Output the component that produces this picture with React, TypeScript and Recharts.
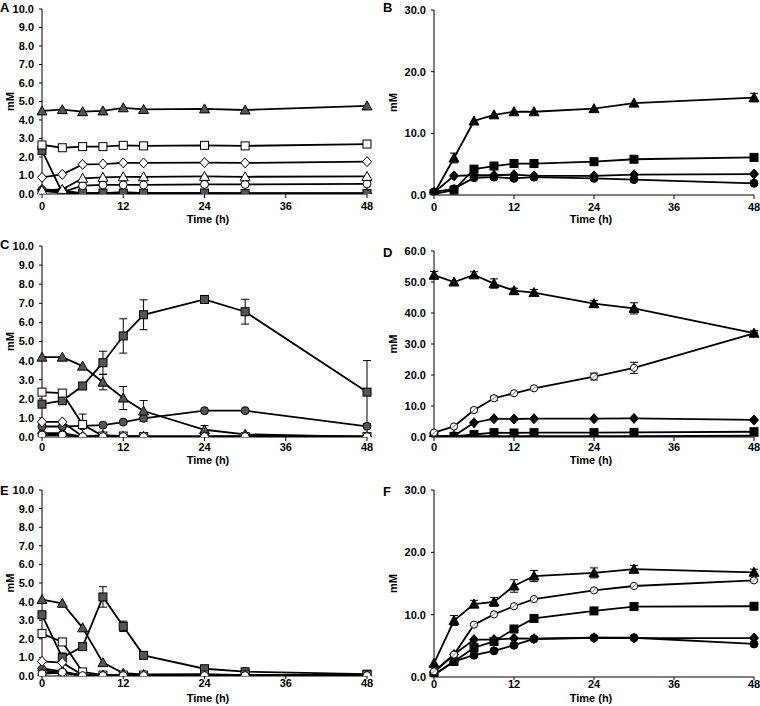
import React from 'react';
import { LineChart, Line, XAxis, YAxis, ErrorBar } from 'recharts';

const TIME = [0, 3, 6, 9, 12, 15, 24, 30, 48];
const X_TICKS = [0, 12, 24, 36, 48];
const Y_TICKS_10 = [0, 1, 2, 3, 4, 5, 6, 7, 8, 9, 10];
const Y_TICKS_30 = [0, 10, 20, 30];
const Y_TICKS_60 = [0, 10, 20, 30, 40, 50, 60];

// Panel A
const aGreyTriangle = [4.49, 4.56, 4.45, 4.49, 4.66, 4.57, 4.6, 4.54, 4.76];
const aOpenSquare = [2.65, 2.5, 2.56, 2.56, 2.63, 2.6, 2.63, 2.6, 2.7];
const aOpenDiamond = [0.9, 1.06, 1.6, 1.62, 1.68, 1.68, 1.7, 1.68, 1.75];
const aOpenTriangle = [0.2, 0.25, 0.85, 0.9, 0.93, 0.93, 0.95, 0.93, 0.95];
const aOpenCircle = [0.16, 0.1, 0.45, 0.49, 0.49, 0.49, 0.52, 0.52, 0.55];
const aGreySquare = [2.35, 0.07, 0.05, 0.05, 0.05, 0.05, 0.05, 0.03, 0.03];
const aGreyCircle = [0.2, 0.05, 0.05, 0.05, 0.1, 0.05, 0.05, 0.03, 0.03];
const aGreyDiamond = [0.25, 0.2, 0.03, 0.03, 0.03, 0.03, 0.03, 0.03, 0.03];

// Panel B
const bTriangle = [0.2, 6.0, 12.0, 13.0, 13.5, 13.5, 14.0, 14.9, 15.8];
const bTriangleErr = [0, 0.8, 0, 0, 0, 0, 0, 0, 0.7];
const bSquare = [0.2, 0.8, 4.2, 4.7, 5.1, 5.1, 5.4, 5.8, 6.1];
const bDiamond = [0.4, 3.1, 3.2, 3.2, 3.3, 3.1, 3.1, 3.3, 3.4];
const bCircle = [0.5, 1.0, 2.8, 2.9, 2.7, 2.9, 2.7, 2.5, 1.9];

// Panel C
const cGreySquare = [1.72, 1.9, 2.67, 3.89, 5.29, 6.4, 7.2, 6.56, 2.35];
const cGreySquareErr = [0, 0, 0, 0.6, 0.9, 0.78, 0.1, 0.65, 1.65];
const cGreyTriangle = [4.18, 4.18, 3.71, 2.87, 2.04, 1.36, 0.38, 0.14, 0.0];
const cGreyTriangleErr = [0, 0, 0, 0.4, 0.6, 0.55, 0.22, 0, 0];
const cGreyCircle = [0.55, 0.55, 0.58, 0.62, 0.78, 0.98, 1.38, 1.38, 0.56];
const cOpenSquare = [2.35, 2.3, 0.65, 0.05, 0.05, 0.02, 0.02, 0.02, 0.02];
const cOpenSquareErr = [0, 0, 0.55, 0, 0, 0, 0, 0, 0];
const cOpenDiamond = [0.79, 0.79, 0.03, 0.02, 0.02, 0.02, 0.02, 0.02, 0.02];
const cOpenTriangle = [0.12, 0.12, 0.02, 0.1, 0.05, 0.02, 0.02, 0.05, 0.02];
const cGreyDiamond = [0.2, 0.2, 0.02, 0.02, 0.02, 0.02, 0.02, 0.02, 0.02];
const cOpenCircle = [0.1, 0.1, 0.02, 0.02, 0.02, 0.02, 0.02, 0.02, 0.02];

// Panel D
const dTriangle = [52.2, 50.0, 52.3, 49.5, 47.2, 46.6, 43.0, 41.5, 33.5];
const dTriangleErr = [1.2, 0, 1.0, 1.5, 0.8, 1.0, 1.0, 1.8, 0.8];
const dHatchCircle = [1.4, 3.4, 8.7, 12.5, 14.1, 15.7, 19.5, 22.3, 33.4];
const dHatchCircleErr = [0, 0, 0.6, 0.7, 0, 0, 1.1, 1.8, 0];
const dDiamond = [0.2, 0.4, 4.6, 5.9, 5.8, 5.9, 5.9, 6.0, 5.5];
const dSquare = [0.2, 0.2, 0.8, 1.4, 1.3, 1.4, 1.4, 1.5, 1.7];
const dCircle = [0.1, 0.1, 0.3, 0.3, 0.3, 0.3, 0.3, 0.3, 0.4];

// Panel E
const eGreyTriangle = [4.11, 3.91, 2.59, 0.72, 0.15, 0.08, 0.1, 0.05, 0.05];
const eGreySquare = [3.29, 0.99, 1.58, 4.25, 2.67, 1.11, 0.39, 0.23, 0.1];
const eGreySquareErr = [0, 0.25, 0, 0.55, 0.28, 0, 0, 0, 0];
const eOpenSquare = [2.28, 1.83, 0.22, 0.05, 0.05, 0.05, 0.05, 0.05, 0.05];
const eOpenDiamond = [0.79, 0.72, 0.05, 0.03, 0.03, 0.03, 0.03, 0.03, 0.03];
const eGreyDiamond = [0.41, 0.25, 0.02, 0.02, 0.02, 0.02, 0.02, 0.02, 0.02];
const eGreyCircle = [0.3, 0.2, 0.02, 0.02, 0.02, 0.02, 0.02, 0.02, 0.02];
const eOpenTriangle = [0.15, 0.15, 0.05, 0.03, 0.03, 0.03, 0.03, 0.03, 0.03];
const eOpenCircle = [0.12, 0.2, 0.02, 0.02, 0.02, 0.02, 0.02, 0.02, 0.02];

// Panel F
const fTriangle = [2.2, 9.05, 11.7, 12.05, 14.6, 16.2, 16.7, 17.3, 16.8];
const fTriangleErr = [0, 0.8, 0.6, 0.7, 1.0, 0.9, 0.8, 0.6, 0.5];
const fHatchCircle = [0.9, 3.6, 8.4, 10.05, 11.35, 12.5, 13.9, 14.6, 15.5];
const fSquare = [0.3, 2.5, 4.7, 5.7, 7.7, 9.4, 10.6, 11.3, 11.35];
const fDiamond = [0.75, 3.6, 6.0, 6.0, 6.2, 6.15, 6.3, 6.25, 6.25];
const fCircle = [0.4, 2.5, 3.5, 4.2, 5.1, 6.1, 6.3, 6.3, 5.3];

const FONT = '"Liberation Sans", Arial, Helvetica, sans-serif';
const GREY = '#555555';
const BLACK = '#000000';
const WHITE = '#ffffff';

type Shape = 'triangle' | 'square' | 'diamond' | 'circle' | 'hatch';
type SeriesDef = { name: string; values: number[]; errors?: number[]; shape: Shape; fill: string };

function Marker({ cx, cy, shape, fill }: { cx: number; cy: number; shape: Shape; fill: string }) {
  if (cx == null || cy == null || isNaN(cx) || isNaN(cy)) return <g />;
  const stroke = BLACK;
  if (shape === 'triangle') {
    return <polygon points={`${cx},${cy - 5} ${cx + 5},${cy + 4} ${cx - 5},${cy + 4}`} fill={fill} stroke={stroke} strokeWidth={1} />;
  }
  if (shape === 'square') {
    return <rect x={cx - 4} y={cy - 4} width={8} height={8} fill={fill} stroke={stroke} strokeWidth={1} />;
  }
  if (shape === 'diamond') {
    return <polygon points={`${cx},${cy - 5} ${cx + 4.5},${cy} ${cx},${cy + 5} ${cx - 4.5},${cy}`} fill={fill} stroke={stroke} strokeWidth={1} />;
  }
  if (shape === 'hatch') {
    return (
      <g>
        <circle cx={cx} cy={cy} r={3.6} fill={WHITE} stroke={stroke} strokeWidth={1} />
        <line x1={cx - 2.4} y1={cy + 2.4} x2={cx + 2.4} y2={cy - 2.4} stroke="#777" strokeWidth={1} />
      </g>
    );
  }
  return <circle cx={cx} cy={cy} r={4} fill={fill} stroke={stroke} strokeWidth={1} />;
}

function buildRows(series: SeriesDef[]) {
  return TIME.map((t, i) => {
    const row: Record<string, number> = { t };
    series.forEach((s) => {
      row[s.name] = s.values[i];
      if (s.errors) row[s.name + '_e'] = s.errors[i];
    });
    return row;
  });
}

type PanelProps = {
  left: number;
  top: number;
  width: number;
  height: number;
  margin: { top: number; right: number; bottom: number; left: number };
  yAxisWidth: number;
  yMax: number;
  yTicks: number[];
  xTickMargin: number;
  xTickSize: number;
  series: SeriesDef[];
};

function Panel({ left, top, width, height, margin, yAxisWidth, yMax, yTicks, xTickMargin, xTickSize, series }: PanelProps) {
  const rows = buildRows(series);
  const tickStyle = { fontFamily: FONT, fontSize: 11, fontWeight: 700, fill: BLACK };
  return (
    <div style={{ position: 'absolute', left, top }}>
      <LineChart width={width} height={height} data={rows} margin={margin}>
        <XAxis
          dataKey="t"
          type="number"
          domain={[0, 48]}
          ticks={X_TICKS}
          height={20}
          tickSize={xTickSize}
          tickMargin={xTickMargin}
          tick={tickStyle}
          axisLine={{ stroke: BLACK, strokeWidth: 1 }}
          tickLine={{ stroke: BLACK }}
          interval={0}
        />
        <YAxis
          type="number"
          domain={[0, yMax]}
          ticks={yTicks}
          width={yAxisWidth}
          tickSize={3}
          tickMargin={5}
          tick={tickStyle}
          tickFormatter={(v: number) => v.toFixed(1)}
          axisLine={{ stroke: BLACK, strokeWidth: 1 }}
          tickLine={{ stroke: BLACK }}
          interval={0}
          allowDataOverflow
        />
        {series.map((s) => (
          <Line
            key={s.name}
            type="linear"
            dataKey={s.name}
            stroke={BLACK}
            strokeWidth={1.8}
            isAnimationActive={false}
            activeDot={false}
            dot={(p: any) => (
              <Marker key={`${s.name}-${p.index}`} cx={p.cx} cy={p.cy} shape={s.shape} fill={s.fill} />
            )}
          >
            {s.errors ? (
              <ErrorBar dataKey={s.name + '_e'} width={4} stroke={BLACK} strokeWidth={1} direction="y" />
            ) : null}
          </Line>
        ))}
      </LineChart>
    </div>
  );
}

const seriesA: SeriesDef[] = [
  { name: 'aGreyDiamond', values: aGreyDiamond, shape: 'diamond', fill: GREY },
  { name: 'aGreyCircle', values: aGreyCircle, shape: 'circle', fill: GREY },
  { name: 'aGreySquare', values: aGreySquare, shape: 'square', fill: GREY },
  { name: 'aOpenCircle', values: aOpenCircle, shape: 'circle', fill: WHITE },
  { name: 'aOpenTriangle', values: aOpenTriangle, shape: 'triangle', fill: WHITE },
  { name: 'aOpenDiamond', values: aOpenDiamond, shape: 'diamond', fill: WHITE },
  { name: 'aOpenSquare', values: aOpenSquare, shape: 'square', fill: WHITE },
  { name: 'aGreyTriangle', values: aGreyTriangle, shape: 'triangle', fill: GREY },
];

const seriesB: SeriesDef[] = [
  { name: 'bCircle', values: bCircle, shape: 'circle', fill: BLACK },
  { name: 'bDiamond', values: bDiamond, shape: 'diamond', fill: BLACK },
  { name: 'bSquare', values: bSquare, shape: 'square', fill: BLACK },
  { name: 'bTriangle', values: bTriangle, errors: bTriangleErr, shape: 'triangle', fill: BLACK },
];

const seriesC: SeriesDef[] = [
  { name: 'cGreyDiamond', values: cGreyDiamond, shape: 'diamond', fill: GREY },
  { name: 'cOpenTriangle', values: cOpenTriangle, shape: 'triangle', fill: WHITE },
  { name: 'cGreyCircle', values: cGreyCircle, shape: 'circle', fill: GREY },
  { name: 'cGreyTriangle', values: cGreyTriangle, errors: cGreyTriangleErr, shape: 'triangle', fill: GREY },
  { name: 'cGreySquare', values: cGreySquare, errors: cGreySquareErr, shape: 'square', fill: GREY },
  { name: 'cOpenDiamond', values: cOpenDiamond, shape: 'diamond', fill: WHITE },
  { name: 'cOpenSquare', values: cOpenSquare, errors: cOpenSquareErr, shape: 'square', fill: WHITE },
  { name: 'cOpenCircle', values: cOpenCircle, shape: 'circle', fill: WHITE },
];

const seriesD: SeriesDef[] = [
  { name: 'dCircle', values: dCircle, shape: 'circle', fill: GREY },
  { name: 'dSquare', values: dSquare, shape: 'square', fill: BLACK },
  { name: 'dDiamond', values: dDiamond, shape: 'diamond', fill: BLACK },
  { name: 'dHatchCircle', values: dHatchCircle, errors: dHatchCircleErr, shape: 'hatch', fill: WHITE },
  { name: 'dTriangle', values: dTriangle, errors: dTriangleErr, shape: 'triangle', fill: BLACK },
];

const seriesE: SeriesDef[] = [
  { name: 'eGreyCircle', values: eGreyCircle, shape: 'circle', fill: GREY },
  { name: 'eGreyDiamond', values: eGreyDiamond, shape: 'diamond', fill: GREY },
  { name: 'eOpenTriangle', values: eOpenTriangle, shape: 'triangle', fill: WHITE },
  { name: 'eGreyTriangle', values: eGreyTriangle, shape: 'triangle', fill: GREY },
  { name: 'eGreySquare', values: eGreySquare, errors: eGreySquareErr, shape: 'square', fill: GREY },
  { name: 'eOpenDiamond', values: eOpenDiamond, shape: 'diamond', fill: WHITE },
  { name: 'eOpenSquare', values: eOpenSquare, shape: 'square', fill: WHITE },
  { name: 'eOpenCircle', values: eOpenCircle, shape: 'circle', fill: WHITE },
];

const seriesF: SeriesDef[] = [
  { name: 'fCircle', values: fCircle, shape: 'circle', fill: BLACK },
  { name: 'fDiamond', values: fDiamond, shape: 'diamond', fill: BLACK },
  { name: 'fSquare', values: fSquare, shape: 'square', fill: BLACK },
  { name: 'fHatchCircle', values: fHatchCircle, shape: 'hatch', fill: WHITE },
  { name: 'fTriangle', values: fTriangle, errors: fTriangleErr, shape: 'triangle', fill: BLACK },
];

const LEFT_X0 = 42;
const LEFT_X1 = 367;
const RIGHT_X0 = 434;
const RIGHT_X1 = 754;

function Titles() {
  const common = { fontFamily: FONT, fontWeight: 700, fill: BLACK } as const;
  const rows = [
    { l: 'A', r: 'B', ly: 12, ry: 12, timeY: 223, midL: 101.5, midR: 102.5 },
    { l: 'C', r: 'D', ly: 249, ry: 257, timeY: 464, midL: 341.5, midR: 344 },
    { l: 'E', r: 'F', ly: 495, ry: 496, timeY: 702, midL: 583, midR: 583.5 },
  ];
  return (
    <svg width={760} height={706} style={{ position: 'absolute', left: 0, top: 0, pointerEvents: 'none' }}>
      {rows.map((row) => (
        <g key={row.l}>
          <text x={0} y={row.ly} fontSize={13} {...common}>{row.l}</text>
          <text x={383} y={row.ry} fontSize={13} {...common}>{row.r}</text>
          <text x={208} y={row.timeY} fontSize={11} textAnchor="middle" {...common}>Time (h)</text>
          <text x={591} y={row.timeY} fontSize={11} textAnchor="middle" {...common}>Time (h)</text>
          <text x={0} y={0} fontSize={11} textAnchor="middle" transform={`translate(14, ${row.midL}) rotate(-90)`} {...common}>mM</text>
          <text x={0} y={0} fontSize={11} textAnchor="middle" transform={`translate(397, ${row.midR}) rotate(-90)`} {...common}>mM</text>
        </g>
      ))}
    </svg>
  );
}

export default function App() {
  const H = 235;
  const leftW = 380;
  const rightW = 380;
  const leftMargin = (y0: number, y1: number, regionTop: number) => ({
    top: y0 - regionTop,
    right: leftW - LEFT_X1,
    bottom: regionTop + H - y1 - 20,
    left: 0,
  });
  const rightMargin = (y0: number, y1: number, regionTop: number) => ({
    top: y0 - regionTop,
    right: 760 - RIGHT_X1,
    bottom: regionTop + H - y1 - 20,
    left: 0,
  });
  return (
    <div style={{ position: 'absolute', left: 0, top: 0, width: 760, height: 706, background: '#fff', overflow: 'hidden' }}>
      <Panel left={0} top={0} width={leftW} height={H} margin={leftMargin(9, 194, 0)} yAxisWidth={LEFT_X0} yMax={10} yTicks={Y_TICKS_10} xTickMargin={4} xTickSize={4} series={seriesA} />
      <Panel left={380} top={0} width={rightW} height={H} margin={rightMargin(10, 195, 0)} yAxisWidth={RIGHT_X0 - 380} yMax={30} yTicks={Y_TICKS_30} xTickMargin={4} xTickSize={4} series={seriesB} />
      <Panel left={0} top={232} width={leftW} height={H} margin={leftMargin(246, 437, 232)} yAxisWidth={LEFT_X0} yMax={10} yTicks={Y_TICKS_10} xTickMargin={2} xTickSize={4} series={seriesC} />
      <Panel left={380} top={232} width={rightW} height={H} margin={rightMargin(251, 437, 232)} yAxisWidth={RIGHT_X0 - 380} yMax={60} yTicks={Y_TICKS_60} xTickMargin={2} xTickSize={4} series={seriesD} />
      <Panel left={0} top={470} width={leftW} height={H} margin={leftMargin(490, 676, 470)} yAxisWidth={LEFT_X0} yMax={10} yTicks={Y_TICKS_10} xTickMargin={0} xTickSize={3} series={seriesE} />
      <Panel left={380} top={470} width={rightW} height={H} margin={rightMargin(490, 677, 470)} yAxisWidth={RIGHT_X0 - 380} yMax={30} yTicks={Y_TICKS_30} xTickMargin={0} xTickSize={3} series={seriesF} />
      <Titles />
    </div>
  );
}
